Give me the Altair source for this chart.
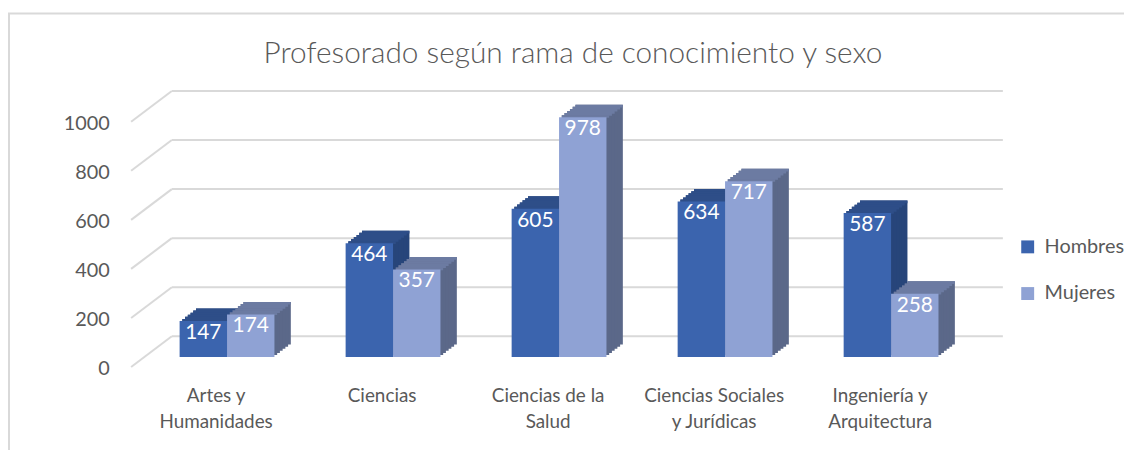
import altair as alt
import pandas as pd

# ---- data -------------------------------------------------------------
ramas = ["Artes y\nHumanidades", "Ciencias", "Ciencias de la\nSalud",
         "Ciencias Sociales\ny Jurídicas", "Ingeniería y\nArquitectura"]
series = ["Hombres", "Mujeres"]
hombres = [147, 464, 605, 634, 587]
mujeres = [174, 357, 978, 717, 258]
ticks_y = [0, 200, 400, 600, 800, 1000]
titulo = "Profesorado según rama de conocimiento y sexo"

rows = []
for r, h, m in zip(ramas, hombres, mujeres):
    rows.append({"rama": r, "sexo": "Hombres", "valor": h})
    rows.append({"rama": r, "sexo": "Mujeres", "valor": m})
df = pd.DataFrame(rows)
grid_df = pd.DataFrame({"v": ticks_y})
one = pd.DataFrame({"k": [0]})

# ---- styles -----------------------------------------------------------
W, H = 836, 247
FONT = "Lato"
GREY = "#595959"
GRID = "#d9d9d9"
front_colors = ["#3b64ae", "#8fa2d4"]
side_colors = ["#27457a", "#5b6889"]
top_colors = ["#2e4e88", "#6c7ba2"]
FRONT_DY = 21      # front faces sit in front of the back wall (pixels)
STEPS = 6          # depth extrusion drawn in small steps
STEP_DX = 2.75
STEP_DY = 2.1

PI, PO = 0.4288, 0.2144
y_scale = alt.Scale(domain=[0, 1000])
y_axis = alt.Axis(values=ticks_y, title=None, ticks=False, domain=False, grid=False,
                  format="d", labelOffset=33, labelPadding=35, labelFontSize=20,
                  labelFont=FONT, labelColor=GREY)
xoff = alt.XOffset("sexo:N", scale=alt.Scale(domain=series, paddingInner=0, paddingOuter=0))


def xenc(shift=0.0, axis=None):
    if shift:
        sc = alt.Scale(domain=ramas, paddingInner=PI, paddingOuter=PO, range=[shift, W + shift])
    else:
        sc = alt.Scale(domain=ramas, paddingInner=PI, paddingOuter=PO)
    if axis is None:
        return alt.X("rama:N", scale=sc, axis=None, sort=ramas)
    return alt.X("rama:N", scale=sc, axis=axis, sort=ramas)


frame = alt.Chart(one).mark_rect(fillOpacity=0, stroke=GRID, strokeWidth=2).encode(
    x=alt.value(-136), x2=alt.value(1100), y=alt.value(-78), y2=alt.value(420)
)

grid = alt.Chart(grid_df).mark_rule(color=GRID, strokeWidth=2).encode(
    y=alt.Y("v:Q", scale=y_scale, axis=y_axis),
    x=alt.value(28), x2=alt.value(865),
)
diag = alt.Chart(grid_df).mark_rule(color=GRID, strokeWidth=2, yOffset=31, y2Offset=0).encode(
    y=alt.Y("v:Q", scale=y_scale, axis=y_axis), y2="v:Q",
    x=alt.value(-13), x2=alt.value(28),
)

layers = [frame, grid, diag]

# side faces: copies of the bars pushed back in depth
for k in range(STEPS, 0, -1):
    dy = FRONT_DY - STEP_DY * k
    layers.append(
        alt.Chart(df).mark_bar(yOffset=dy, y2Offset=dy).encode(
            x=xenc(STEP_DX * k), xOffset=xoff,
            y=alt.Y("valor:Q", scale=y_scale, axis=y_axis), y2=alt.datum(0),
            color=alt.Color("sexo:N", scale=alt.Scale(domain=series, range=side_colors),
                            legend=None),
        )
    )
# top faces: thin strips at the top of every depth copy
for k in range(STEPS, 0, -1):
    dy = FRONT_DY - STEP_DY * k
    layers.append(
        alt.Chart(df).mark_bar(yOffset=dy, y2Offset=dy + STEP_DY + 0.6).encode(
            x=xenc(STEP_DX * k), xOffset=xoff,
            y=alt.Y("valor:Q", scale=y_scale, axis=y_axis), y2="valor:Q",
            color=alt.Color("sexo:N", scale=alt.Scale(domain=series, range=top_colors),
                            legend=None),
        )
    )

x_axis = alt.Axis(title=None, ticks=False, domain=False, grid=False, labelAngle=0,
                  labelExpr="split(datum.value, '\\n')", labelFontSize=19, labelFont=FONT,
                  labelColor=GREY, labelLineHeight=26, labelPadding=51, labelOffset=-11)
front = alt.Chart(df).mark_bar(yOffset=FRONT_DY, y2Offset=FRONT_DY).encode(
    x=xenc(0, x_axis), xOffset=xoff,
    y=alt.Y("valor:Q", scale=y_scale, axis=y_axis), y2=alt.datum(0),
    color=alt.Color("sexo:N", scale=alt.Scale(domain=series, range=front_colors),
                    legend=alt.Legend(orient="none", legendX=880, legendY=147, title=None,
                                      symbolType="square", symbolSize=169, symbolStrokeWidth=0,
                                      labelFontSize=20, labelFont=FONT, labelColor=GREY,
                                      rowPadding=27, labelOffset=7)),
)
labels = alt.Chart(df).mark_text(yOffset=FRONT_DY + 12, baseline="middle", fontSize=21,
                                 font=FONT, color="white").encode(
    x=xenc(0), xOffset=xoff,
    y=alt.Y("valor:Q", scale=y_scale, axis=y_axis),
    text="valor:Q",
)
title = alt.Chart(one).mark_text(text=titulo, font=FONT, fontSize=30, fontWeight=300,
                                 color=GREY, align="center", baseline="alphabetic").encode(
    x=alt.value(432), y=alt.value(-28)
)

layers += [front, labels, title]

chart = alt.layer(*layers).resolve_scale(
    x="independent", color="independent"
).properties(
    width=W, height=H,
    autosize=alt.AutoSizeParams(type="none"),
    padding={"left": 137, "top": 82, "right": 151, "bottom": 113},
).configure_view(strokeWidth=0)

chart.save("out.html", embed_options={"renderer": "svg", "actions": False})
